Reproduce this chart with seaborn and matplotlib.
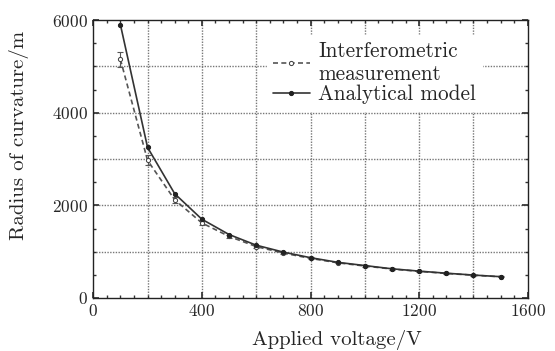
import numpy as np
import pandas as pd
import matplotlib
matplotlib.use("Agg")
import matplotlib.pyplot as plt
import seaborn as sns
from matplotlib.ticker import MultipleLocator

voltage = [100, 200, 300, 400, 500, 600, 700, 800, 900, 1000, 1100, 1200, 1300, 1400, 1500]
model = [5900, 3250, 2250, 1700, 1370, 1140, 990, 870, 770, 700, 630, 580, 535, 495, 460]
measured = [5150, 2970, 2120, 1620, 1330, 1110, 970, 855, 760, 690, 625, 575, 530, 492, 458]
meas_err = [170, 110, 70, 50, 40, 30, 25, 20, 15, 15, 12, 12, 10, 10, 10]

sns.set_theme(style="ticks")
plt.rcParams["font.family"] = ["cmr10", "DejaVu Serif"]
plt.rcParams["axes.formatter.use_mathtext"] = True
plt.rcParams["mathtext.fontset"] = "cm"

df = pd.DataFrame({"voltage": voltage, "model": model, "measured": measured})

fig = plt.figure(figsize=(5.55, 3.51), dpi=100)
ax = fig.add_axes([0.168, 0.151, 0.783, 0.792])

ax.errorbar(df["voltage"], df["measured"], yerr=meas_err, fmt="none", ecolor="#555555",
            elinewidth=0.8, capsize=2, capthick=0.8)
sns.lineplot(data=df, x="voltage", y="measured", ax=ax, color="#555555", linestyle=(0, (3, 2)),
             linewidth=1.2, marker="o", markersize=3, markerfacecolor="white",
             markeredgecolor="#444444", label="Interferometric\nmeasurement")
sns.lineplot(data=df, x="voltage", y="model", ax=ax, color="#333333", linewidth=1.2,
             marker="o", markersize=3, markerfacecolor="#222222", markeredgecolor="#222222",
             label="Analytical model")

ax.set_xlim(0, 1600)
ax.set_ylim(0, 6000)
ax.xaxis.set_major_locator(MultipleLocator(400))
ax.xaxis.set_minor_locator(MultipleLocator(50))
ax.yaxis.set_major_locator(MultipleLocator(2000))
ax.yaxis.set_minor_locator(MultipleLocator(500))
for v in range(200, 1600, 200):
    ax.axvline(v, color="#777777", linestyle=(0, (1, 1)), linewidth=1.0, zorder=0)
for v in range(1000, 6000, 1000):
    ax.axhline(v, color="#777777", linestyle=(0, (1, 1)), linewidth=1.0, zorder=0)
ax.tick_params(which="both", direction="in", top=True, right=True, labelsize=12.5, color="#333333")
ax.tick_params(which="major", length=4)
ax.tick_params(which="minor", length=2)
for s in ax.spines.values():
    s.set_color("#222222")
    s.set_linewidth(1.0)

ax.set_xlabel("Applied voltage/V", fontsize=15)
ax.set_ylabel("Radius of curvature/m", fontsize=15)
ax.xaxis.set_label_coords(0.56, -0.115)
ax.yaxis.set_label_coords(-0.148, 0.585)
leg = ax.legend(loc="upper left", bbox_to_anchor=(0.399, 0.945), fontsize=15.3, frameon=True,
                framealpha=1, edgecolor="white", fancybox=False, handlelength=1.74,
                handletextpad=0.38, borderpad=0.3, labelspacing=0.05, borderaxespad=0)

fig.savefig("out.png", dpi=100)
